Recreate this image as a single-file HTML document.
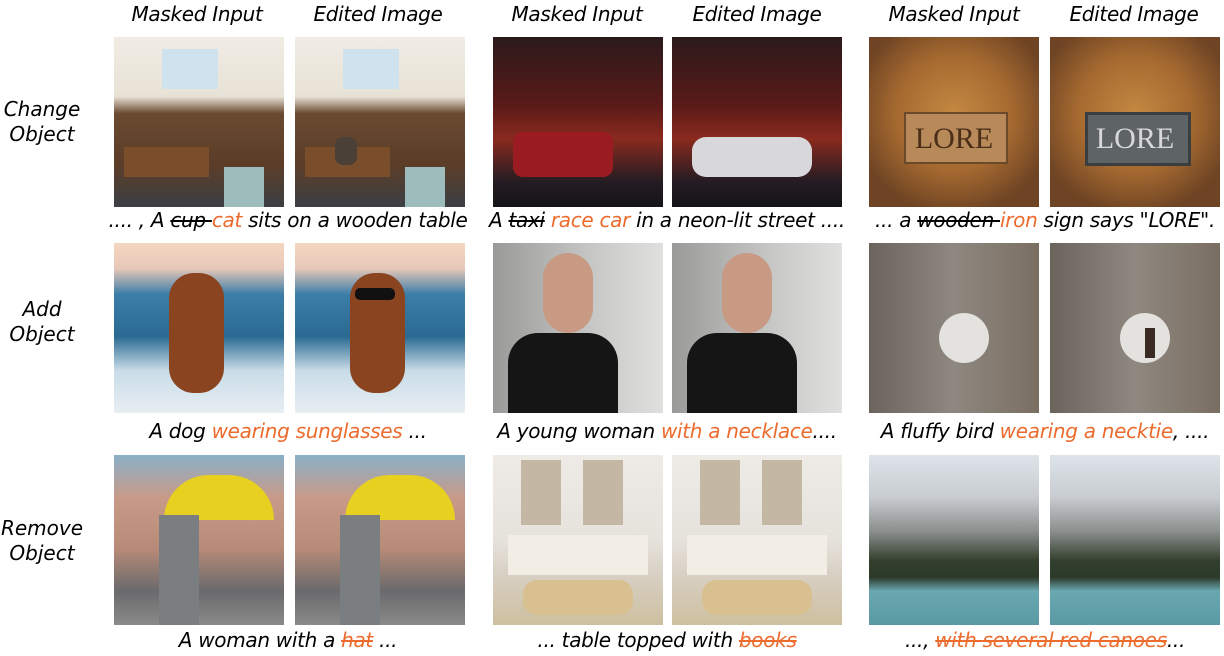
<!DOCTYPE html>
<html><head><meta charset="utf-8"><style>
body{margin:0;width:1224px;height:656px;background:#fff;position:relative;overflow:hidden;font-family:"DejaVu Sans","Liberation Sans",sans-serif;font-style:italic;color:#000}
.t{position:absolute;font-size:20px;white-space:nowrap;transform:translateX(-50%);letter-spacing:-0.3px}
.h{top:2px}
.r{position:absolute;font-size:20px;text-align:center;width:100px;left:-8px;line-height:25px}
.img{position:absolute;width:170px;height:170px;overflow:hidden}
.o{color:#ec6b2d}
s{text-decoration-thickness:2px}
.e{position:absolute}
</style></head><body>
<div class="t h" style="left:197px">Masked Input</div>
<div class="t h" style="left:378px">Edited Image</div>
<div class="t h" style="left:577px">Masked Input</div>
<div class="t h" style="left:757px">Edited Image</div>
<div class="t h" style="left:954px">Masked Input</div>
<div class="t h" style="left:1134px">Edited Image</div>

<div class="r" style="top:97px">Change<br>Object</div>
<div class="r" style="top:297px">Add<br>Object</div>
<div class="r" style="top:516px">Remove<br>Object</div>

<!-- Row 1 -->
<div class="img" style="left:114px;top:37px;background:linear-gradient(#f0ece4 0%,#e8e2d6 35%,#6a4a30 45%,#5b3d28 75%,#3c3f44 100%)"><div class="e" style="left:48px;top:12px;width:56px;height:40px;background:#cfe3ef"></div><div class="e" style="left:10px;top:110px;width:85px;height:30px;background:#7a4e2a"></div><div class="e" style="left:110px;top:130px;width:40px;height:40px;background:#9fbcbc"></div></div>
<div class="img" style="left:295px;top:37px;background:linear-gradient(#f0ece4 0%,#e8e2d6 35%,#6a4a30 45%,#5b3d28 75%,#3c3f44 100%)"><div class="e" style="left:48px;top:12px;width:56px;height:40px;background:#cfe3ef"></div><div class="e" style="left:10px;top:110px;width:85px;height:30px;background:#7a4e2a"></div><div class="e" style="left:40px;top:100px;width:22px;height:28px;background:#4a4038;border-radius:8px"></div><div class="e" style="left:110px;top:130px;width:40px;height:40px;background:#9fbcbc"></div></div>
<div class="img" style="left:493px;top:37px;background:linear-gradient(#2a1a1c,#5a1a18 40%,#8a2a1e 60%,#241c22 85%,#151416)"><div class="e" style="left:20px;top:95px;width:100px;height:45px;background:#9a1c22;border-radius:10px"></div></div>
<div class="img" style="left:672px;top:37px;background:linear-gradient(#2a1a1c,#5a1a18 40%,#8a2a1e 60%,#241c22 85%,#151416)"><div class="e" style="left:20px;top:100px;width:120px;height:40px;background:#d8d8dc;border-radius:14px"></div></div>
<div class="img" style="left:869px;top:37px;background:radial-gradient(circle at 50% 45%,#c48842 0%,#a66a30 45%,#6e4424 80%)"><div class="e" style="left:35px;top:75px;width:100px;height:48px;background:#b88a5a;border:2px solid #6a4a2a"></div><div class="e" style="left:35px;top:85px;width:100px;text-align:center;font:30px 'Liberation Serif',serif;color:#4a2e18">LORE</div></div>
<div class="img" style="left:1050px;top:37px;background:radial-gradient(circle at 50% 45%,#c48842 0%,#a66a30 45%,#6e4424 80%)"><div class="e" style="left:35px;top:75px;width:100px;height:48px;background:#5e6466;border:3px solid #3a3e40"></div><div class="e" style="left:35px;top:85px;width:100px;text-align:center;font:30px 'Liberation Serif',serif;color:#d8d8d8">LORE</div></div>

<div class="t" style="left:288px;top:208px">.... , A <s>cup </s><span class="o">cat</span> sits on a wooden table</div>
<div class="t" style="left:667px;top:208px">A <s>taxi</s> <span class="o">race car</span> in a neon-lit street ....</div>
<div class="t" style="left:1045px;top:208px">... a <s>wooden </s><span class="o">iron</span> sign says "LORE".</div>

<!-- Row 2 -->
<div class="img" style="left:114px;top:243px;background:linear-gradient(#f4d6c0 0%,#e8c8b8 15%,#3d7ea8 30%,#2a6a92 55%,#c8dce8 75%,#e8eef2 100%)"><div class="e" style="left:55px;top:30px;width:55px;height:120px;background:#8a4420;border-radius:25px"></div></div>
<div class="img" style="left:295px;top:243px;background:linear-gradient(#f4d6c0 0%,#e8c8b8 15%,#3d7ea8 30%,#2a6a92 55%,#c8dce8 75%,#e8eef2 100%)"><div class="e" style="left:55px;top:30px;width:55px;height:120px;background:#8a4420;border-radius:25px"></div><div class="e" style="left:60px;top:45px;width:40px;height:12px;background:#111;border-radius:5px"></div></div>
<div class="img" style="left:493px;top:243px;background:linear-gradient(90deg,#9a9a98,#c8c8c6 60%,#e0e0de)"><div class="e" style="left:50px;top:10px;width:50px;height:80px;background:#c89a84;border-radius:25px"></div><div class="e" style="left:15px;top:90px;width:110px;height:80px;background:#151515;border-radius:30px 30px 0 0"></div></div>
<div class="img" style="left:672px;top:243px;background:linear-gradient(90deg,#9a9a98,#c8c8c6 60%,#e0e0de)"><div class="e" style="left:50px;top:10px;width:50px;height:80px;background:#c89a84;border-radius:25px"></div><div class="e" style="left:15px;top:90px;width:110px;height:80px;background:#151515;border-radius:30px 30px 0 0"></div></div>
<div class="img" style="left:869px;top:243px;background:linear-gradient(90deg,#6a645c,#8e8880 50%,#7a6e62)"><div class="e" style="left:70px;top:70px;width:50px;height:50px;background:#e4e2de;border-radius:25px"></div></div>
<div class="img" style="left:1050px;top:243px;background:linear-gradient(90deg,#6a645c,#8e8880 50%,#7a6e62)"><div class="e" style="left:70px;top:70px;width:50px;height:50px;background:#e4e2de;border-radius:25px"></div><div class="e" style="left:95px;top:85px;width:10px;height:30px;background:#3a2a24"></div></div>

<div class="t" style="left:288px;top:419px">A dog <span class="o">wearing sunglasses</span> ...</div>
<div class="t" style="left:667px;top:419px">A young woman <span class="o">with a necklace</span>....</div>
<div class="t" style="left:1045px;top:419px">A fluffy bird <span class="o">wearing a necktie</span>, ....</div>

<!-- Row 3 -->
<div class="img" style="left:114px;top:455px;background:linear-gradient(#8ab0c8 0%,#c89a88 25%,#b88a78 55%,#6a6a6c 80%,#8a8a8a)"><div class="e" style="left:50px;top:20px;width:110px;height:45px;background:#e8d020;border-radius:55px 55px 0 0"></div><div class="e" style="left:45px;top:60px;width:40px;height:110px;background:#7a7e80"></div></div>
<div class="img" style="left:295px;top:455px;background:linear-gradient(#8ab0c8 0%,#c89a88 25%,#b88a78 55%,#6a6a6c 80%,#8a8a8a)"><div class="e" style="left:50px;top:20px;width:110px;height:45px;background:#e8d020;border-radius:55px 55px 0 0"></div><div class="e" style="left:45px;top:60px;width:40px;height:110px;background:#7a7e80"></div></div>
<div class="img" style="left:493px;top:455px;background:linear-gradient(#eeebe6 0%,#e6e2dc 50%,#d8d0c4 70%,#cdbf9f 100%)"><div class="e" style="left:28px;top:5px;width:40px;height:65px;background:#c4b8a4"></div><div class="e" style="left:90px;top:5px;width:40px;height:65px;background:#c4b8a4"></div><div class="e" style="left:15px;top:80px;width:140px;height:40px;background:#f2eee6"></div><div class="e" style="left:30px;top:125px;width:110px;height:35px;background:#d8c090;border-radius:14px"></div></div>
<div class="img" style="left:672px;top:455px;background:linear-gradient(#eeebe6 0%,#e6e2dc 50%,#d8d0c4 70%,#cdbf9f 100%)"><div class="e" style="left:28px;top:5px;width:40px;height:65px;background:#c4b8a4"></div><div class="e" style="left:90px;top:5px;width:40px;height:65px;background:#c4b8a4"></div><div class="e" style="left:15px;top:80px;width:140px;height:40px;background:#f2eee6"></div><div class="e" style="left:30px;top:125px;width:110px;height:35px;background:#d8c090;border-radius:14px"></div></div>
<div class="img" style="left:869px;top:455px;background:linear-gradient(#dde4ea 0%,#c8ccd0 25%,#8a8e8c 45%,#34402e 62%,#2c3a2a 72%,#6aa8b0 80%,#5a9aa4 100%)"></div>
<div class="img" style="left:1050px;top:455px;background:linear-gradient(#dde4ea 0%,#c8ccd0 25%,#8a8e8c 45%,#34402e 62%,#2c3a2a 72%,#6aa8b0 80%,#5a9aa4 100%)"></div>

<div class="t" style="left:288px;top:628px">A woman with a <s class="o">hat</s> ...</div>
<div class="t" style="left:667px;top:628px">... table topped with <s class="o">books</s></div>
<div class="t" style="left:1045px;top:628px">..., <s class="o">with several red canoes</s>...</div>
</body></html>
